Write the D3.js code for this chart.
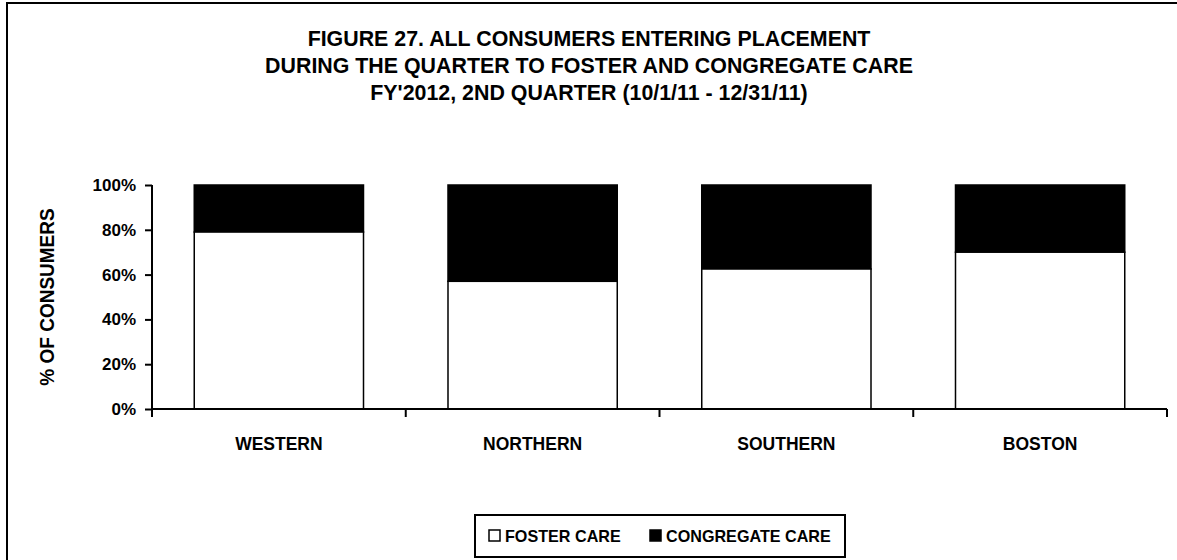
<!DOCTYPE html>
<html>
<head>
<meta charset="utf-8">
<script src="https://cdn.jsdelivr.net/npm/d3@7"></script>
<style>
  html, body { margin: 0; padding: 0; background: #fff; }
  svg { display: block; }
  text { font-family: "Liberation Sans Narrow", "Arial Narrow", "Liberation Sans", Arial, sans-serif; font-weight: bold; fill: #000; }
</style>
</head>
<body>
<svg id="chart" width="1177" height="560"></svg>
<script>
// Regions and the share of consumers entering placement by care type
const regions = ["WESTERN", "NORTHERN", "SOUTHERN", "BOSTON"];
const fosterCare = [79, 57, 62.5, 70];
const congregateCare = [21, 43, 37.5, 30];
const yTicks = [0, 20, 40, 60, 80, 100];
const seriesNames = ["FOSTER CARE", "CONGREGATE CARE"];
const titleLines = [
  "FIGURE 27. ALL CONSUMERS ENTERING PLACEMENT",
  "DURING THE QUARTER TO FOSTER AND CONGREGATE CARE",
  "FY'2012, 2ND QUARTER (10/1/11 - 12/31/11)"
];

const svg = d3.select("#chart");
const W = 1177, H = 560;

// outer frame
svg.append("rect")
  .attr("x", 7).attr("y", 3)
  .attr("width", W + 20).attr("height", H + 20)
  .attr("fill", "none").attr("stroke", "#000").attr("stroke-width", 2);

// title, slightly condensed
svg.append("g").selectAll("text")
  .data(titleLines).join("text")
  .attr("transform", (d, i) => `translate(589,${45.5 + i * 27}) scale(0.93,1)`)
  .attr("text-anchor", "middle")
  .style("font-size", "23px")
  .text(d => d);

const plot = { left: 152, right: 1167, top: 185, bottom: 409 };

const x = d3.scaleBand()
  .domain(regions)
  .range([plot.left, plot.right])
  .paddingInner(0.333)
  .paddingOuter(0.1665);

const y = d3.scaleLinear().domain([0, 100]).range([plot.bottom, plot.top]);

const stacked = regions.map((r, i) => ({
  region: r,
  foster: fosterCare[i],
  congregate: congregateCare[i]
}));

// congregate care segments (on top)
svg.append("g").selectAll("rect")
  .data(stacked).join("rect")
  .attr("x", d => x(d.region))
  .attr("y", d => y(d.foster + d.congregate))
  .attr("width", x.bandwidth())
  .attr("height", d => y(d.foster) - y(d.foster + d.congregate))
  .attr("fill", "#000")
  .attr("stroke", "#000").attr("stroke-width", 1.5);

// foster care segments
svg.append("g").selectAll("rect")
  .data(stacked).join("rect")
  .attr("x", d => x(d.region))
  .attr("y", d => y(d.foster))
  .attr("width", x.bandwidth())
  .attr("height", d => y(0) - y(d.foster))
  .attr("fill", "#fff")
  .attr("stroke", "#000").attr("stroke-width", 1.5);

// y axis
const yAxis = d3.axisLeft(y)
  .tickValues(yTicks)
  .tickFormat(d => d + "%")
  .tickSize(7)
  .tickPadding(9);
const gy = svg.append("g")
  .attr("transform", `translate(${plot.left},0)`)
  .call(yAxis);
gy.select(".domain").attr("stroke", "#000").attr("stroke-width", 2)
  .attr("d", `M0,${plot.top}V${plot.bottom + 8}`);
gy.selectAll(".tick line").attr("stroke", "#000").attr("stroke-width", 2);
gy.selectAll(".tick text")
  .style("font-size", "17px")
  .style("font-family", "'Liberation Sans Narrow', 'Arial Narrow', 'Liberation Sans', sans-serif")
  .attr("fill", "#000");

// x axis baseline with ticks between categories
const gx = svg.append("g");
gx.append("line")
  .attr("x1", plot.left).attr("x2", plot.right)
  .attr("y1", plot.bottom).attr("y2", plot.bottom)
  .attr("stroke", "#000").attr("stroke-width", 2);
const boundaries = regions.map(r => x(r) - x.step() * x.paddingInner() / 2)
  .concat([plot.right]);
gx.selectAll("line.tk")
  .data(boundaries).join("line")
  .attr("class", "tk")
  .attr("x1", d => d).attr("x2", d => d)
  .attr("y1", plot.bottom).attr("y2", plot.bottom + 8)
  .attr("stroke", "#000").attr("stroke-width", 2);
gx.selectAll("text")
  .data(regions).join("text")
  .attr("x", d => x(d) + x.bandwidth() / 2)
  .attr("y", 449.5)
  .attr("text-anchor", "middle")
  .style("font-size", "17.5px")
  .text(d => d);

// y axis title
svg.append("text")
  .attr("transform", `translate(54,${(plot.top + plot.bottom) / 2}) rotate(-90) scale(0.95,1)`)
  .attr("text-anchor", "middle")
  .style("font-size", "20px")
  .text("% OF CONSUMERS");

// legend
const legend = svg.append("g");
legend.append("rect")
  .attr("x", 475).attr("y", 515).attr("width", 370).attr("height", 42)
  .attr("fill", "#fff").attr("stroke", "#000").attr("stroke-width", 2);
const legendX = [489, 650];
const legendFill = ["#fff", "#000"];
const items = legend.selectAll("g.item")
  .data(seriesNames).join("g")
  .attr("class", "item")
  .attr("transform", (d, i) => `translate(${legendX[i]},530)`);
items.append("rect")
  .attr("width", 11).attr("height", 11)
  .attr("fill", (d, i) => legendFill[i])
  .attr("stroke", "#000").attr("stroke-width", 1.5);
items.append("text")
  .attr("transform", "translate(16,12) scale(0.95,1)")
  .style("font-size", "17px")
  .text(d => d);
</script>
</body>
</html>
